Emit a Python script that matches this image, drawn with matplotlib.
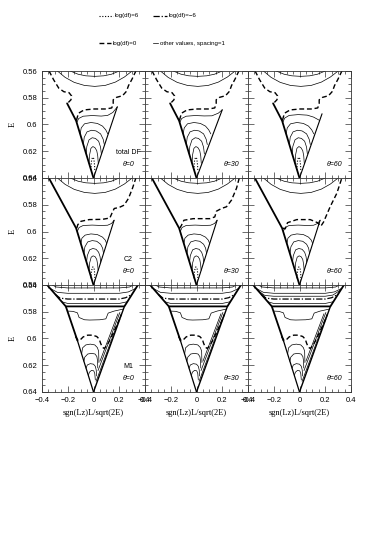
import matplotlib
matplotlib.use("Agg")
import matplotlib.pyplot as plt
from matplotlib.lines import Line2D

# ---- contour traces, (sgn(Lz)L/sqrt(2E), E) ----
arc_wide = [(-0.28, 0.56), (-0.22, 0.5648), (-0.15, 0.5685), (-0.07, 0.5708), (0.01, 0.5715),
            (0.09, 0.5708), (0.17, 0.5683), (0.24, 0.5645), (0.30, 0.56)]
arc_narrow = [(-0.18, 0.56), (-0.12, 0.5624), (-0.06, 0.5636), (0.01, 0.564), (0.08, 0.5636),
              (0.14, 0.5624), (0.20, 0.56)]

# row 1: total DF
tot_dash_outer = [(-0.345, 0.56), (-0.31, 0.5665), (-0.27, 0.5728), (-0.23, 0.5755), (-0.19, 0.5762),
                  (-0.17, 0.5787), (-0.175, 0.5815), (-0.195, 0.5835)]
tot_thick = [(-0.205, 0.5842), (-0.135, 0.5972), (0.0, 0.64)]
tot_dash_inner = [(-0.132, 0.5967), (-0.117, 0.5916), (-0.073, 0.5891), (0.005, 0.5884), (0.096, 0.5884),
                  (0.142, 0.5876), (0.153, 0.5841), (0.153, 0.5815), (0.179, 0.5797), (0.225, 0.5785),
                  (0.256, 0.5752), (0.272, 0.5709), (0.298, 0.5663), (0.329, 0.56)]
tot_vright = [[(0.0, 0.64), (0.185, 0.5868)], [(0.0, 0.64), (0.2, 0.589)], [(0.0, 0.64), (0.175, 0.592)]]
tot_top_arch = [
    [(-0.130, 0.5985), (-0.115, 0.5955), (-0.08, 0.5938), (-0.01, 0.5933), (0.06, 0.5937), (0.11, 0.5932),
     (0.15, 0.591), (0.185, 0.5868)],
    [(-0.130, 0.5985), (-0.115, 0.5955), (-0.08, 0.5938), (-0.01, 0.5933), (0.06, 0.5936), (0.12, 0.5935),
     (0.17, 0.5915), (0.2, 0.589)],
    [(-0.130, 0.5985), (-0.115, 0.5952), (-0.08, 0.5932), (-0.01, 0.5926), (0.06, 0.593), (0.11, 0.5945),
     (0.157, 0.597)],
]
tot_arches = [
    [(-0.104, 0.607), (-0.095, 0.6025), (-0.07, 0.5995), (-0.02, 0.5985), (0.03, 0.5992), (0.07, 0.6012),
     (0.095, 0.604), (0.111, 0.607)],
    [(-0.079, 0.615), (-0.072, 0.6095), (-0.05, 0.6055), (-0.015, 0.6043), (0.02, 0.6048), (0.055, 0.607),
     (0.075, 0.611), (0.084, 0.615)],
    [(-0.057, 0.622), (-0.052, 0.6165), (-0.035, 0.6115), (-0.01, 0.6099), (0.015, 0.6104), (0.04, 0.6125),
     (0.055, 0.617), (0.061, 0.622)],
    [(-0.035, 0.629), (-0.03, 0.6225), (-0.02, 0.6178), (-0.005, 0.6165), (0.01, 0.6172), (0.025, 0.6195),
     (0.033, 0.6235), (0.037, 0.629)],
]
tot_dotted = [(-0.02, 0.634), (-0.017, 0.628), (-0.008, 0.6245), (0.002, 0.6255), (0.008, 0.630),
              (0.01, 0.634)]

# row 2: C2
c2_thick = [(-0.344, 0.5605), (-0.135, 0.5975), (0.0, 0.64)]
c2_dash = [
    [(-0.13, 0.5975), (-0.122, 0.5949), (-0.098, 0.5924), (-0.034, 0.5911), (0.07, 0.5909), (0.127, 0.5899),
     (0.142, 0.5866), (0.161, 0.5828), (0.2, 0.582), (0.238, 0.5803), (0.272, 0.5752), (0.303, 0.5676),
     (0.329, 0.56)],
    [(-0.13, 0.5975), (-0.117, 0.5954), (-0.098, 0.5916), (-0.026, 0.5904), (0.104, 0.5904), (0.142, 0.5891),
     (0.155, 0.5848), (0.194, 0.5828), (0.233, 0.5815), (0.272, 0.5765), (0.311, 0.5676), (0.332, 0.56)],
    [(-0.13, 0.5975), (-0.111, 0.598), (-0.093, 0.5934), (-0.021, 0.5911), (0.083, 0.5911), (0.14, 0.5934),
     (0.166, 0.596), (0.187, 0.5929), (0.238, 0.5815), (0.29, 0.5714), (0.329, 0.56)],
]
c2_vright = [(0.0, 0.64), (0.16, 0.5916)]
c2_arches = [
    [(-0.126, 0.60), (-0.112, 0.597), (-0.08, 0.5955), (-0.01, 0.5952), (0.06, 0.5955), (0.11, 0.5953),
     (0.14, 0.594), (0.16, 0.5916)],
    [(-0.098, 0.609), (-0.09, 0.605), (-0.065, 0.6027), (-0.02, 0.6018), (0.03, 0.6023), (0.07, 0.6042),
     (0.092, 0.6065), (0.102, 0.609)],
    [(-0.074, 0.6165), (-0.067, 0.6115), (-0.045, 0.6078), (-0.01, 0.6068), (0.025, 0.6073), (0.055, 0.6095),
     (0.071, 0.6125), (0.078, 0.6165)],
    [(-0.054, 0.623), (-0.048, 0.618), (-0.03, 0.6137), (-0.005, 0.6127), (0.02, 0.6133), (0.04, 0.6155),
     (0.051, 0.6188), (0.056, 0.623)],
    [(-0.035, 0.629), (-0.03, 0.6235), (-0.018, 0.6192), (-0.003, 0.6182), (0.012, 0.6188), (0.025, 0.6208),
     (0.032, 0.6245), (0.036, 0.629)],
]
c2_dotted = [(-0.02, 0.635), (-0.016, 0.6295), (-0.006, 0.6265), (0.004, 0.6272), (0.009, 0.631),
             (0.011, 0.635)]

# row 3: M1
m1_frame = [(-0.36, 0.56), (-0.215, 0.576), (0.24, 0.576), (0.345, 0.56)]
m1_left_edge = [(-0.215, 0.576), (-0.125, 0.6015)]
m1_vleft = [(-0.125, 0.6015), (0.0, 0.64)]
m1_vright = [(0.0, 0.64), (0.24, 0.576)]
m1_u_top = [(-0.32, 0.56), (-0.29, 0.5615), (-0.2, 0.5622), (0.0, 0.5622), (0.2, 0.5622), (0.28, 0.5615),
            (0.31, 0.56)]
m1_u_mid = [(-0.337, 0.5625), (-0.28, 0.5655), (-0.2, 0.5662), (0.0, 0.5662), (0.2, 0.5662), (0.27, 0.5652),
            (0.329, 0.5625)]
m1_dashdot = [(-0.297, 0.567), (-0.26, 0.5698), (-0.2, 0.5705), (0.0, 0.5705), (0.2, 0.5705), (0.25, 0.5695),
              (0.299, 0.567)]
m1_u_low = [(-0.247, 0.5725), (-0.2, 0.5738), (0.0, 0.574), (0.2, 0.5738), (0.263, 0.5725)]
m1_u_extra = [(-0.325, 0.564), (-0.27, 0.5678), (-0.2, 0.5684), (0.0, 0.5684), (0.2, 0.5684), (0.26, 0.5675),
              (0.315, 0.564)]
m1_shoulder = [(-0.203, 0.5795), (-0.16, 0.5797), (-0.125, 0.5808), (-0.112, 0.5843), (-0.07, 0.586),
               (-0.03, 0.5862), (0.05, 0.586), (0.096, 0.5853), (0.114, 0.581), (0.16, 0.5795), (0.232, 0.578)]
m1_dash = [(-0.14, 0.5985), (-0.12, 0.6015), (-0.105, 0.6012), (-0.08, 0.5988), (-0.045, 0.5975),
           (-0.008, 0.5975), (0.025, 0.5985), (0.045, 0.6005), (0.055, 0.6035), (0.068, 0.6065), (0.085, 0.6075),
           (0.12, 0.6025), (0.16, 0.5945), (0.2, 0.586), (0.215, 0.5825)]
m1_fan = [[(0.02, 0.632), (0.215, 0.5815)], [(0.035, 0.624), (0.205, 0.5805)], [(0.05, 0.617), (0.19, 0.5815)]]
m1_arches = [
    [(-0.092, 0.6115), (-0.085, 0.607), (-0.06, 0.6048), (-0.025, 0.6042), (0.01, 0.6048), (0.03, 0.6068),
     (0.04, 0.6095), (0.042, 0.618)],
    [(-0.075, 0.617), (-0.068, 0.614), (-0.045, 0.6116), (-0.015, 0.6111), (0.012, 0.6116), (0.026, 0.6135),
     (0.032, 0.617), (0.033, 0.622)],
    [(-0.058, 0.6222), (-0.048, 0.6198), (-0.025, 0.6188), (0.0, 0.6192), (0.014, 0.6208), (0.021, 0.6235),
     (0.024, 0.628)],
    [(-0.04, 0.6277), (-0.032, 0.6252), (-0.015, 0.6238), (0.002, 0.6242), (0.01, 0.6262), (0.014, 0.631)],
]

panel_names = ["total DF", "C2", "M1"]
thetas = ["0", "30", "60"]
x_ticks = [-0.4, -0.2, 0.0, 0.2, 0.4]
x_ticklabels = ["\u22120.4", "\u22120.2", "0", "0.2", "0.4"]
y_ticks = [0.56, 0.58, 0.60, 0.62, 0.64]
y_ticklabels = ["0.56", "0.58", "0.6", "0.62", "0.64"]
legend_labels = ["log(df)=6", "log(df)=\u22126", "log(df)=0", "other values, spacing=1"]

THIN = dict(color="black", lw=0.5)
THICK = dict(color="black", lw=1.3)
DASH = dict(color="black", lw=1.0, dashes=(3.5, 2.0))
DOT = dict(color="black", lw=0.8, ls=(0, (1, 1.5)))
DASHDOT = dict(color="black", lw=0.9, dashes=(5, 1.5, 1, 1.5))


def curve(ax, pts, **kw):
    xs = [p[0] for p in pts]
    ys = [p[1] for p in pts]
    ax.plot(xs, ys, solid_capstyle="round", **kw)


fig = plt.figure(figsize=(3.77, 5.44), dpi=100)
plt.rcParams["font.family"] = "Liberation Sans"

left, width = 42 / 377, 103 / 377
height = 107 / 544
tops = [71, 178, 285]

for r in range(3):
    for c in range(3):
        ax = fig.add_axes([left + c * width, 1 - (tops[r] + 107) / 544, width, height])
        ax.set_xlim(-0.4, 0.4)
        ax.set_ylim(0.64, 0.56)

        if r < 2:
            curve(ax, arc_wide, **THIN)
            curve(ax, arc_narrow, **THIN)
        if r == 0:
            curve(ax, tot_dash_outer, **DASH)
            curve(ax, tot_thick, **THICK)
            curve(ax, tot_dash_inner, **DASH)
            curve(ax, tot_vright[c], color="black", lw=0.8)
            curve(ax, tot_top_arch[c], **THIN)
            for a in tot_arches:
                curve(ax, a, **THIN)
            curve(ax, tot_dotted, **DOT)
        elif r == 1:
            curve(ax, c2_thick, **THICK)
            curve(ax, c2_dash[c], **DASH)
            curve(ax, c2_vright, color="black", lw=0.8)
            for a in c2_arches:
                curve(ax, a, **THIN)
            curve(ax, c2_dotted, **DOT)
        else:
            curve(ax, m1_frame, **THICK)
            curve(ax, m1_left_edge, **THICK)
            curve(ax, m1_vleft, color="black", lw=0.9)
            curve(ax, m1_vright, color="black", lw=1.0)
            curve(ax, m1_u_top, **THIN)
            curve(ax, m1_u_mid, **THIN)
            curve(ax, m1_dashdot, **DASHDOT)
            curve(ax, m1_u_low, **THIN)
            if c == 2:
                curve(ax, m1_u_extra, **THIN)
            curve(ax, m1_shoulder, **THIN)
            curve(ax, m1_dash, **DASH)
            for f in m1_fan:
                curve(ax, f, **THIN)
            for a in m1_arches:
                curve(ax, a, **THIN)

        if c == 0:
            ax.text(0.27, 0.621, panel_names[r], fontsize=5, ha="center", va="center")
        ax.text(0.27, 0.630, "\u03b8=" + thetas[c], fontsize=5, ha="center", va="center",
                style="italic")

        ax.set_xticks(x_ticks)
        ax.set_xticks([-0.35, -0.3, -0.25, -0.15, -0.1, -0.05, 0.05, 0.1, 0.15, 0.25, 0.3, 0.35], minor=True)
        ax.set_yticks(y_ticks)
        ax.set_yticks([0.565, 0.57, 0.575, 0.585, 0.59, 0.595, 0.605, 0.61, 0.615, 0.625, 0.63, 0.635],
                      minor=True)
        ax.tick_params(which="both", direction="in", top=True, right=True, width=0.5, colors="#333333",
                       labelsize=5.5, labelcolor="black")
        ax.tick_params(which="major", length=4, pad=3.5)
        ax.tick_params(which="minor", length=2)
        for s in ax.spines.values():
            s.set_linewidth(0.6)
            s.set_color("#333333")

        if c == 0:
            ax.set_yticklabels(y_ticklabels)
            ax.set_ylabel("E", family="Liberation Serif", fontsize=6, labelpad=4)
        else:
            ax.set_yticklabels([])
        if r == 2:
            ax.set_xticklabels(x_ticklabels)
            ax.set_xlabel("sgn(Lz)L/sqrt(2E)", family="Liberation Serif", fontsize=6, labelpad=4)
        else:
            ax.set_xticklabels([])

# legend keys placed like the original header (pixel positions / figure size)
W, H = 377.0, 544.0
keys = [((99, 113), 16, DOT), ((153, 167), 16, DASHDOT), ((99, 111), 43, DASH), ((153, 158), 43, THIN)]
for (x0, x1), yy, sty in keys:
    fig.add_artist(Line2D([x0 / W, x1 / W], [1 - yy / H, 1 - yy / H], transform=fig.transFigure, **sty))
for ((x0, x1), yy, sty), lab in zip(keys, legend_labels):
    fig.text((x1 + 1.5) / W, 1 - yy / H, lab, fontsize=4.4, ha="left", va="center")

fig.savefig("out.png", dpi=100)
